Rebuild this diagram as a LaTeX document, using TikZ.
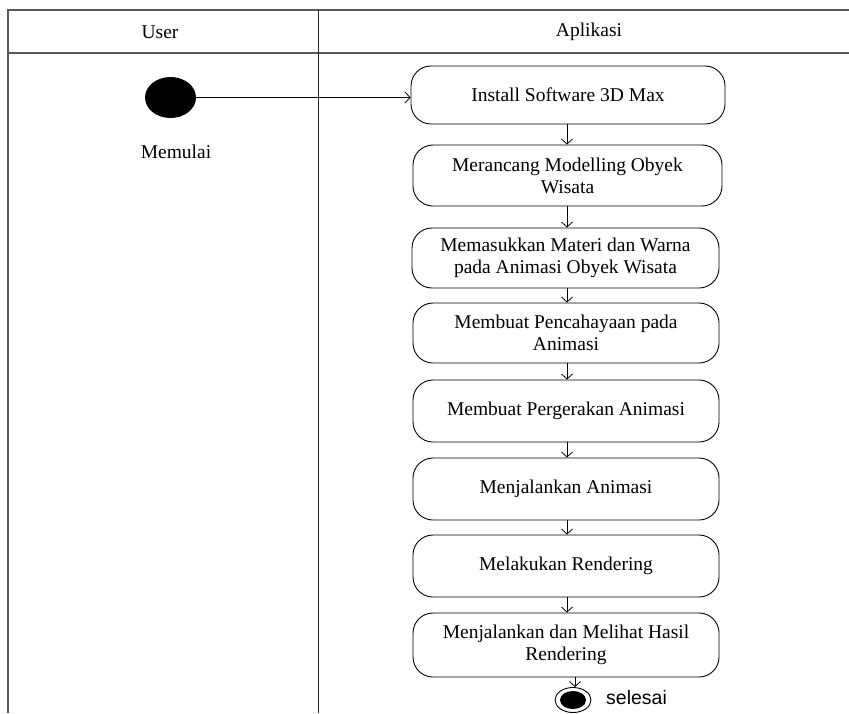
\documentclass[tikz,border=0pt]{standalone}
\usepackage{fontspec}
\setmainfont{Liberation Serif}
\newfontfamily\arialf{Liberation Sans}
\usetikzlibrary{shapes.geometric,arrows.meta}
\begin{document}
\begin{tikzpicture}[x=1pt,y=-1pt,
  frame/.style={line width=1.6pt,draw=black!65},
  sep/.style={line width=1.2pt,draw=black!85},
  act/.style={draw,line width=0.9pt,rounded corners=20pt,align=center,
    font=\fontsize{19.5}{22}\selectfont,inner sep=0pt,minimum width=306pt,minimum height=61pt},
  arr/.style={line width=0.8pt,-{Straight Barb[length=5pt,width=11pt]}},
  lbl/.style={font=\fontsize{19.5}{22}\selectfont,inner sep=0pt}]
\useasboundingbox (0,0) rectangle (849,713);
% frame
\draw[frame] (849,10) -- (8,10) -- (8,713);
\draw[frame] (8,53) -- (849,53);
\draw[sep] (318.5,10) -- (318.5,713);
\node[lbl] (hu) at (160,32) {User};
\node[lbl] (ha) at (589,32) {Aplikasi};
% start
\node[ellipse,fill=black,minimum width=51pt,minimum height=41pt,inner sep=0pt] (start) at (170.5,97.5) {};
\node[lbl] (mulai) at (176,152) {Memulai};
% activities
\node[act,minimum width=314pt,minimum height=58pt] (b1) at (568,95) {Install Software 3D Max};
\node[act,minimum width=309pt] (b2) at (567.5,175.5) {Merancang Modelling Obyek\\Wisata};
\node[act,minimum width=307pt,minimum height=60pt] (b3) at (565.5,258) {Memasukkan Materi dan Warna\\pada Animasi Obyek Wisata};
\node[act,minimum height=60pt] (b4) at (566,333) {Membuat Pencahayaan pada\\Animasi};
\node[act,minimum height=62pt] (b5) at (566,411) {Membuat Pergerakan Animasi};
\node[act,minimum height=62pt] (b6) at (566,489) {Menjalankan Animasi};
\node[act,minimum height=62pt] (b7) at (566,566) {Melakukan Rendering};
\node[act,minimum height=64pt] (b8) at (566,645) {Menjalankan dan Melihat Hasil\\Rendering};
% end
\node[ellipse,draw,line width=0.9pt,minimum width=36pt,minimum height=25pt,inner sep=0pt] (end) at (573,700) {};
\node[ellipse,fill=black,minimum width=26pt,minimum height=18pt,inner sep=0pt] (endin) at (end.center) {};
\node[anchor=west,inner sep=0pt,font=\arialf\fontsize{19.5}{22}\selectfont] (sel) at (606,698) {selesai};
% connectors
\draw[arr] (start.east) -- (b1.west |- start.east);
\draw[arr] (b1.south -| 567,0) -- (b2.north -| 567,0);
\draw[arr] (b2.south -| 567,0) -- (b3.north -| 567,0);
\draw[arr] (b3.south -| 567,0) -- (b4.north -| 567,0);
\draw[arr] (b4.south -| 567,0) -- (b5.north -| 567,0);
\draw[arr] (b5.south -| 567,0) -- (b6.north -| 567,0);
\draw[arr] (b6.south -| 567,0) -- (b7.north -| 567,0);
\draw[arr] (b7.south -| 567,0) -- (b8.north -| 567,0);
\draw[arr] (b8.south -| 575,0) -- (end.north -| 575,0);
\end{tikzpicture}
\end{document}
